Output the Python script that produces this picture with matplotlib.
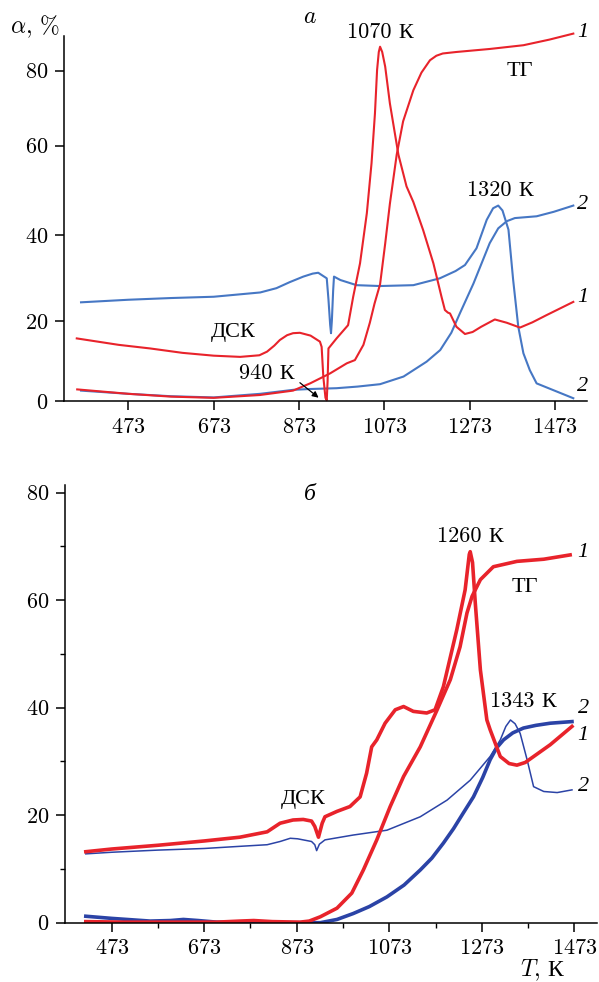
import numpy as np
import matplotlib
matplotlib.use('Agg')
import matplotlib.pyplot as plt
from matplotlib.ticker import MultipleLocator, FixedLocator

plt.rcParams['font.family'] = ['cmr10', 'Liberation Serif']
plt.rcParams['mathtext.fontset'] = 'cm'
plt.rcParams['axes.formatter.use_mathtext'] = True
plt.rcParams['font.size'] = 16

RED = '#e8232b'
BLUE_A = '#4677c4'
BLUE_B = '#2b43a6'

# ---------- panel a ----------
# DSC, sample 1 (red)
a_dsc1_T = [352, 450, 524, 600, 673, 735, 780, 798, 815, 828, 845, 859, 875, 900, 922, 926, 930, 935, 938, 940, 942,
            961, 988, 1000, 1016, 1032, 1043, 1051, 1056, 1060, 1063, 1068, 1075, 1086, 1106, 1125, 1141,
            1164, 1188, 1207, 1215, 1222, 1227, 1242, 1262, 1280, 1300, 1332, 1360, 1391, 1420, 1453, 1516]
a_dsc1_v = [15.6, 14.0, 13.1, 12.0, 11.3, 11.0, 11.4, 12.3, 13.8, 15.2, 16.4, 16.9, 17.0, 16.3, 14.8, 13.5, 6.0, 0.8, 0.2, 5.0, 13.1,
            15.6, 18.9, 25.6, 33.4, 44.9, 56.1, 68.6, 80.2, 85.0, 86.4, 85.0, 81.1, 71.3, 58.0, 50.9, 47.4,
            41.1, 33.4, 25.6, 22.5, 21.9, 21.7, 18.5, 16.7, 17.2, 18.5, 20.3, 19.5, 18.3, 19.6, 21.3, 24.4]
# TG, sample 1 (red)
a_tg1_T = [353, 473, 573, 673, 781, 859, 899, 946, 985, 1004, 1024, 1039, 1050, 1063, 1075, 1086,
           1102, 1117, 1141, 1160, 1180, 1195, 1210, 1242, 1320, 1399, 1460, 1516]
a_tg1_v = [2.9, 1.8, 1.1, 0.8, 1.5, 2.6, 4.4, 6.9, 9.4, 10.2, 14.0, 19.5, 24.0, 28.5, 38.0, 47.0,
           58.0, 66.5, 74.8, 79.5, 82.8, 84.0, 84.6, 85.0, 85.8, 86.8, 88.3, 89.9]
# DSC, sample 2 (blue)
a_dsc2_T = [362, 473, 573, 673, 782, 820, 851, 883, 905, 918, 938, 942, 946, 948, 950, 953, 955, 970, 1008,
            1063, 1141, 1203, 1240, 1262, 1289, 1313, 1328, 1340, 1350, 1364, 1375, 1387, 1399, 1414, 1430, 1516]
a_dsc2_v = [24.3, 24.9, 25.3, 25.6, 26.6, 27.6, 29.0, 30.3, 31.0, 31.2, 29.9, 25.0, 19.0, 16.9, 20.0, 27.0, 30.3, 29.5, 28.3,
            28.1, 28.3, 29.9, 31.6, 33.0, 36.9, 43.4, 46.0, 46.6, 45.5, 41.2, 29.5, 18.5, 11.9, 7.7, 4.4, 0.7]
# TG, sample 2 (blue)
a_tg2_T = [362, 473, 573, 673, 782, 860, 900, 961, 1010, 1063, 1118, 1172, 1204, 1230, 1250, 1282,
           1320, 1340, 1360, 1379, 1430, 1470, 1516]
a_tg2_v = [2.6, 1.8, 1.2, 0.9, 1.8, 2.8, 3.0, 3.2, 3.6, 4.2, 6.1, 9.8, 12.7, 17.0, 21.7, 28.7,
           38.1, 41.5, 43.1, 43.8, 44.2, 45.2, 46.6]

# ---------- panel b ----------
b_dsc1_T = [417, 473, 573, 673, 750, 809, 837, 865, 887, 905, 912, 920, 928, 934, 960, 988, 1010, 1024,
            1035, 1046, 1064, 1086, 1104, 1125, 1154, 1172, 1190, 1219, 1237, 1246, 1248, 1253, 1259,
            1270, 1284, 1291, 1313, 1332, 1349, 1367, 1385, 1421, 1468]
b_dsc1_v = [13.2, 13.7, 14.4, 15.2, 15.9, 16.9, 18.5, 19.1, 19.2, 18.9, 17.9, 15.9, 18.5, 19.7, 20.7, 21.6, 23.4, 27.8,
            32.7, 34.0, 37.1, 39.6, 40.2, 39.3, 39.0, 39.6, 43.9, 54.5, 61.9, 68.5, 69.0, 67.0, 59.4,
            47.0, 37.7, 35.9, 30.9, 29.6, 29.3, 29.8, 30.9, 33.1, 36.5]
b_tg1_T = [417, 500, 600, 700, 750, 780, 820, 880, 900, 924, 960, 992, 1017, 1046, 1075, 1104, 1140,
           1176, 1205, 1226, 1241, 1252, 1270, 1298, 1349, 1407, 1464]
b_tg1_v = [0.2, 0.1, 0.1, 0.1, 0.3, 0.4, 0.2, 0.1, 0.3, 1.1, 2.7, 5.5, 9.8, 15.4, 21.6, 27.2, 32.7,
           39.5, 45.2, 51.3, 57.6, 60.7, 63.8, 66.2, 67.2, 67.6, 68.4]
b_dsc2_T = [417, 473, 573, 673, 750, 809, 837, 859, 875, 905, 912, 916, 922, 934, 995, 1068, 1140, 1198,
            1248, 1291, 1313, 1325, 1335, 1345, 1356, 1371, 1385, 1407, 1436, 1468]
b_dsc2_v = [12.8, 13.1, 13.5, 13.8, 14.2, 14.5, 15.1, 15.7, 15.6, 15.1, 14.5, 13.4, 14.6, 15.4, 16.3, 17.2, 19.7, 22.8,
            26.5, 30.9, 34.0, 36.5, 37.7, 37.0, 35.2, 30.3, 25.3, 24.4, 24.2, 24.7]
b_tg2_T = [417, 473, 556, 600, 628, 660, 700, 800, 924, 960, 995, 1030, 1068, 1105, 1140, 1165, 1190,
           1212, 1233, 1255, 1275, 1291, 1305, 1320, 1340, 1363, 1390, 1421, 1468]
b_tg2_v = [1.2, 0.8, 0.3, 0.4, 0.6, 0.4, 0.1, 0.0, 0.0, 0.6, 1.7, 3.0, 4.8, 7.0, 9.8, 12.0, 14.8,
           17.5, 20.4, 23.4, 27.0, 30.3, 32.5, 34.0, 35.3, 36.2, 36.7, 37.1, 37.4]

x_ticks = [473, 673, 873, 1073, 1273, 1473]

# the scanned top panel has an uneven y axis, reproduce it
yk = [-20, 0, 20, 40, 60, 80, 100]
pk = [-80.3, 0, 80.3, 166.0, 255.3, 330.3, 405.3]


def fwd(v):
    return np.interp(v, yk, pk)


def inv(v):
    return np.interp(v, pk, yk)


fig = plt.figure(figsize=(5.99, 9.82), dpi=100)
ax1 = fig.add_axes([0.1068, 0.5916, 0.8731, 0.3717])
ax2 = fig.add_axes([0.1085, 0.0604, 0.8881, 0.4457])

for ax in (ax1, ax2):
    ax.spines['top'].set_visible(False)
    ax.spines['right'].set_visible(False)
    ax.spines['left'].set_linewidth(1.1)
    ax.spines['bottom'].set_linewidth(1.1)
    ax.tick_params(which='major', direction='out', length=6.5, width=1.1, labelsize=16, pad=5)
    ax.tick_params(which='minor', direction='out', length=3.6, width=1.0)
    ax.set_xticks(x_ticks)

# panel a
ax1.set_yscale('function', functions=(fwd, inv))
ax1.plot(a_tg2_T, a_tg2_v, color=BLUE_A, lw=1.5, clip_on=False)
ax1.plot(a_dsc2_T, a_dsc2_v, color=BLUE_A, lw=1.5, clip_on=False)
ax1.plot(a_tg1_T, a_tg1_v, color=RED, lw=1.5, clip_on=False)
ax1.plot(a_dsc1_T, a_dsc1_v, color=RED, lw=1.5, clip_on=False)
ax1.set_xlim(322, 1548)
ax1.set_ylim(0, 89.25)
ax1.yaxis.set_major_locator(FixedLocator([0, 20, 40, 60, 80]))
ax1.yaxis.set_minor_locator(FixedLocator([]))

ax1.text(1063, 90.3, '1070 К', ha='center', va='center')
ax1.text(1390, 80.2, 'ТГ', ha='center', va='center')
ax1.text(1344, 50.1, '1320 К', ha='center', va='center')
ax1.text(718, 17.2, 'ДСК', ha='center', va='center')
ax1.text(798, 7.0, '940 К', ha='center', va='center')
ax1.annotate('', xy=(924, 0.4), xytext=(870, 5.0),
             arrowprops=dict(arrowstyle='-|>', color='black', lw=0.9, mutation_scale=9))
for yv, s in [(90.3, '1'), (46.8, '2'), (25.5, '1'), (3.5, '2')]:
    ax1.text(1538, yv, s, ha='center', va='center', family='Liberation Serif', style='italic', fontsize=16)
ax1.text(899, 94.3, r'$a$', ha='center', va='center', fontsize=17)

# panel b
ax2.plot(b_dsc2_T, b_dsc2_v, color=BLUE_B, lw=1.1)
ax2.plot(b_tg2_T, b_tg2_v, color=BLUE_B, lw=2.6)
ax2.plot(b_tg1_T, b_tg1_v, color=RED, lw=2.6)
ax2.plot(b_dsc1_T, b_dsc1_v, color=RED, lw=2.6)
ax2.set_xlim(372, 1522)
ax2.set_ylim(0, 81.4)
ax2.yaxis.set_major_locator(MultipleLocator(20))
ax2.yaxis.set_minor_locator(MultipleLocator(10))
ax2.xaxis.set_minor_locator(FixedLocator([573, 773, 973, 1173, 1373]))

ax2.text(1248, 71.8, '1260 К', ha='center', va='center')
ax2.text(1367, 62.5, 'ТГ', ha='center', va='center')
ax2.text(1363, 41.1, '1343 К', ha='center', va='center')
ax2.text(887, 22.9, 'ДСК', ha='center', va='center')
for yv, s in [(68.8, '1'), (39.9, '2'), (34.9, '1'), (25.3, '2')]:
    ax2.text(1492, yv, s, ha='center', va='center', family='Liberation Serif', style='italic', fontsize=16)
ax2.text(902, 79.6, 'б', ha='center', va='center', family='Liberation Serif', style='italic', fontsize=17)

fig.text(35 / 599, 1 - 27 / 982, r'$\alpha$, %', ha='center', va='center', fontsize=17)
fig.text(541 / 599, 1 - 970 / 982, r'$T$,', ha='right', va='center', fontsize=17)
fig.text(547 / 599, 1 - 970 / 982, 'К', ha='left', va='center', fontsize=17)

fig.savefig('out.png', dpi=100)
